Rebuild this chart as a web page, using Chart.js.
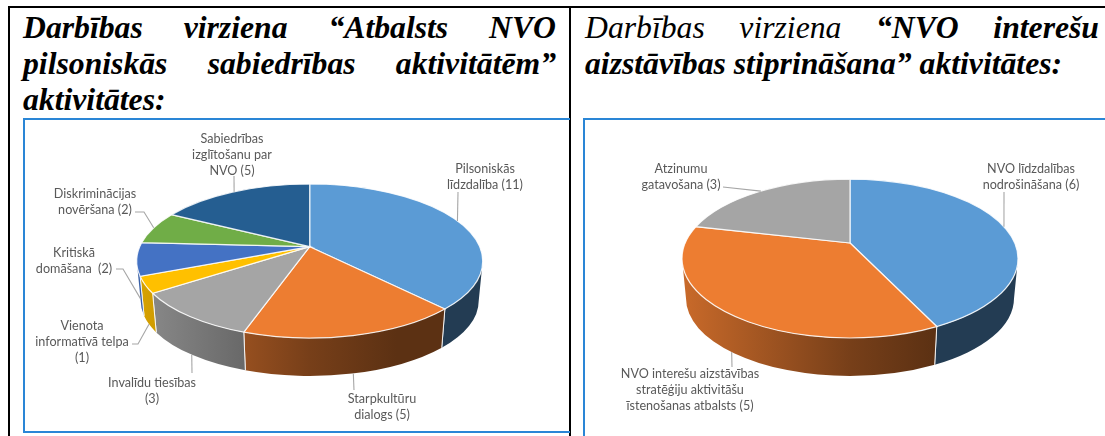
<!DOCTYPE html>
<html lang="lv">
<head>
<meta charset="utf-8">
<title>Darbības virzienu aktivitātes</title>
<script src="https://cdn.jsdelivr.net/npm/chart.js@4/dist/chart.umd.js"></script>
<style>
    html, body { margin: 0; padding: 0; background: #fff; overflow: hidden; }
    #page { position: relative; width: 1105px; height: 436px; overflow: hidden; }
    .rule { position: absolute; background: #000; }
    .box { position: absolute; box-sizing: border-box; border: 2px solid #2a86d6; }
    .head {
        position: absolute;
        font-family: "Liberation Serif", serif;
        font-size: 31.7px;
        line-height: 36px;
        font-style: italic;
        color: #000;
        white-space: nowrap;
    }
    .head div { text-align: justify; text-align-last: justify; white-space: normal; }
    .head div.last { text-align-last: left; }
    .b { font-weight: bold; }
    canvas { position: absolute; top: 0; }
</style>
</head>
<body>
<div id="page">
    <div class="rule" style="left:8px;top:6px;width:1097px;height:2px"></div>
    <div class="rule" style="left:8px;top:6px;width:2px;height:430px"></div>
    <div class="rule" style="left:569px;top:6px;width:2px;height:430px"></div>
    <div class="box" style="left:23px;top:118px;width:547px;height:315px;border-right:0"></div>
    <div class="box" style="left:583px;top:118px;width:530px;height:330px"></div>
    <div class="head b" style="left:23px;top:10px;width:533px">
        <div>Darbības virziena “Atbalsts NVO</div>
        <div>pilsoniskās sabiedrības aktivitātēm”</div>
        <div class="last">aktivitātes:</div>
    </div>
    <div class="head" style="left:585px;top:10px;width:514px">
        <div>Darbības virziena <span class="b">“NVO interešu</span></div>
        <div class="last b">aizstāvības stiprināšana” aktivitātes:</div>
    </div>
    <canvas id="left" width="569" height="436" style="left:0"></canvas>
    <canvas id="right" width="533" height="436" style="left:572px"></canvas>
</div>
<script>
const leftLabels = [
    ['Pilsoniskās', 'līdzdalība (11)'],
    ['Starpkultūru', 'dialogs (5)'],
    ['Invalīdu tiesības', '(3)'],
    ['Vienota', 'informatīvā telpa', '(1)'],
    ['Kritiskā', 'domāšana  (2)'],
    ['Diskriminācijas', 'novēršana (2)'],
    ['Sabiedrības', 'izglītošanu par', 'NVO (5)']
];
const leftValues = [11, 5, 3, 1, 2, 2, 5];
const leftColors = ['#5B9BD5', '#ED7D31', '#A5A5A5', '#FFC000', '#4472C4', '#70AD47', '#255E91'];

const rightLabels = [
    ['NVO līdzdalības', 'nodrošināšana (6)'],
    ['NVO interešu aizstāvības', 'stratēģiju aktivitāšu', 'īstenošanas atbalsts (5)'],
    ['Atzinumu', 'gatavošana (3)']
];
const rightValues = [6, 5, 3];
const rightColors = ['#5B9BD5', '#ED7D31', '#A5A5A5'];

// where the label text sits and how its leader line runs to the slice (page px)
const leftLayout = [
    {x: 485, y: 169, via: [[458, 192]]},
    {x: 382, y: 399, via: [[354, 390]]},
    {x: 152, y: 383, via: [[192, 373]]},
    {x: 82, y: 326, via: [[138, 344], [132, 344]]},
    {x: 74, y: 253, via: [[123, 269], [116, 269]]},
    {x: 95, y: 194, via: [[144, 212], [135, 212]]},
    {x: 232, y: 139, via: [[234, 176]]}
];
const rightLayout = [
    {x: 1031, y: 169, via: [[1004, 192]]},
    {x: 690, y: 374, via: [[732, 367]]},
    {x: 681, y: 169, via: [[723, 187]]}
];

const wallStops = [[0, 0.85], [0.5, 0.5], [0.75, 0.39], [1, 0.39]];

function shade(hex, f) {
    const n = parseInt(hex.slice(1), 16);
    const c = [n >> 16, (n >> 8) & 255, n & 255].map(v => Math.round(v * f));
    return `rgb(${c.join(',')})`;
}

// angle on the rim once the disc is seen in perspective (centre moves up by k)
function rimAngle(t, k) {
    const X = Math.cos(t), Y = Math.sin(t);
    const d = 1 + k * Y;
    return Math.atan2((Y + k) / d, X * Math.sqrt(1 - k * k) / d);
}

class Arc3D extends Chart.ArcElement {
    static id = 'arc3d';

    draw(ctx) {
        const {x, y, startAngle, endAngle, outerRadius} = this.getProps(['x', 'y', 'startAngle', 'endAngle', 'outerRadius']);
        const {squash, k, drop, inset} = this.tilt;
        const color = this.options.backgroundColor;
        const rx = outerRadius, ry = outerRadius * squash;
        const a1 = rimAngle(startAngle, k), a2 = rimAngle(endAngle, k);

        // side wall, only where the rim faces us
        const two = Math.PI * 2;
        const from = ((a1 % two) + two) % two;
        let to = ((a2 % two) + two) % two;
        if (to < from) to += two;
        [0, two].forEach(base => {
            const v1 = Math.max(from, base), v2 = Math.min(to, base + Math.PI);
            if (v2 <= v1) return;
            const grad = ctx.createLinearGradient(x - rx, 0, x + rx, 0);
            wallStops.forEach(s => grad.addColorStop(s[0], shade(color, s[1])));
            ctx.beginPath();
            ctx.ellipse(x, y, rx, ry, 0, v1, v2);
            ctx.ellipse(x, y + drop, rx - inset, ry - 2, 0, v2, v1, true);
            ctx.closePath();
            ctx.fillStyle = grad;
            ctx.fill();
            ctx.strokeStyle = 'rgba(255,255,255,0.85)';
            ctx.lineWidth = 1;
            [v1, v2].forEach(v => {
                if (v === base || v === base + Math.PI) return;
                ctx.beginPath();
                ctx.moveTo(x + rx * Math.cos(v), y + ry * Math.sin(v));
                ctx.lineTo(x + (rx - inset) * Math.cos(v), y + drop + (ry - 2) * Math.sin(v));
                ctx.stroke();
            });
        });

        // top face
        ctx.beginPath();
        ctx.moveTo(x, y + ry * k);
        ctx.ellipse(x, y, rx, ry, 0, a1, a2);
        ctx.closePath();
        ctx.fillStyle = color;
        ctx.fill();
        ctx.strokeStyle = 'rgba(255,255,255,0.85)';
        ctx.lineWidth = 1.2;
        ctx.stroke();
    }
}

class Pie3D extends Chart.PieController {
    static id = 'pie3d';
    static defaults = {dataElementType: 'arc3d'};

    draw() {
        const tilt = this.getDataset().tilt;
        this._cachedMeta.data.forEach(el => { el.tilt = tilt; });
        super.draw();
    }
}

const sliceLabels = {
    id: 'sliceLabels',
    afterDatasetsDraw(chart, args, opts) {
        const ctx = chart.ctx;
        const {squash, k, drop, inset} = chart.data.datasets[0].tilt;
        const shift = chart.canvas.offsetLeft;
        ctx.save();
        ctx.translate(-shift, 0);
        chart.getDatasetMeta(0).data.forEach((el, i) => {
            const spot = opts.layout[i];
            const a = rimAngle((el.startAngle + el.endAngle) / 2, k);
            const lower = Math.sin(a) > -0.1;
            const rx = el.outerRadius - (lower ? inset : 0);
            const ry = el.outerRadius * squash - (lower ? 2 : 0);
            ctx.beginPath();
            ctx.moveTo(el.x + shift + rx * Math.cos(a), el.y + (lower ? drop : 0) + ry * Math.sin(a));
            spot.via.forEach(p => ctx.lineTo(p[0], p[1]));
            ctx.strokeStyle = '#a6a6a6';
            ctx.lineWidth = 1.1;
            ctx.stroke();
            ctx.font = '12.6px Lato, sans-serif';
            ctx.fillStyle = '#595959';
            ctx.textAlign = 'center';
            ctx.textBaseline = 'middle';
            chart.data.labels[i].forEach((line, n) => ctx.fillText(line, spot.x, spot.y + n * 16));
        });
        ctx.restore();
    }
};

Chart.register(Arc3D, Pie3D);

function makePie(id, labels, values, colors, tilt, padding, layout) {
    return new Chart(document.getElementById(id), {
        type: 'pie3d',
        data: {
            labels: labels,
            datasets: [{data: values, backgroundColor: colors, borderWidth: 0, tilt: tilt, clip: false}]
        },
        options: {
            responsive: false,
            animation: false,
            layout: {padding: padding},
            plugins: {
                legend: {display: false},
                tooltip: {enabled: false},
                sliceLabels: {layout: layout}
            }
        },
        plugins: [sliceLabels]
    });
}

makePie('left', leftLabels, leftValues, leftColors,
    {squash: 0.445, k: -0.186, drop: 40, inset: 4},
    {left: 136.7, right: 86.3, top: 88, bottom: 2}, leftLayout);
makePie('right', rightLabels, rightValues, rightColors,
    {squash: 0.473, k: -0.195, drop: 40, inset: 4},
    {left: 110, right: 87, top: 90.5, bottom: 9.5}, rightLayout);
</script>
</body>
</html>
